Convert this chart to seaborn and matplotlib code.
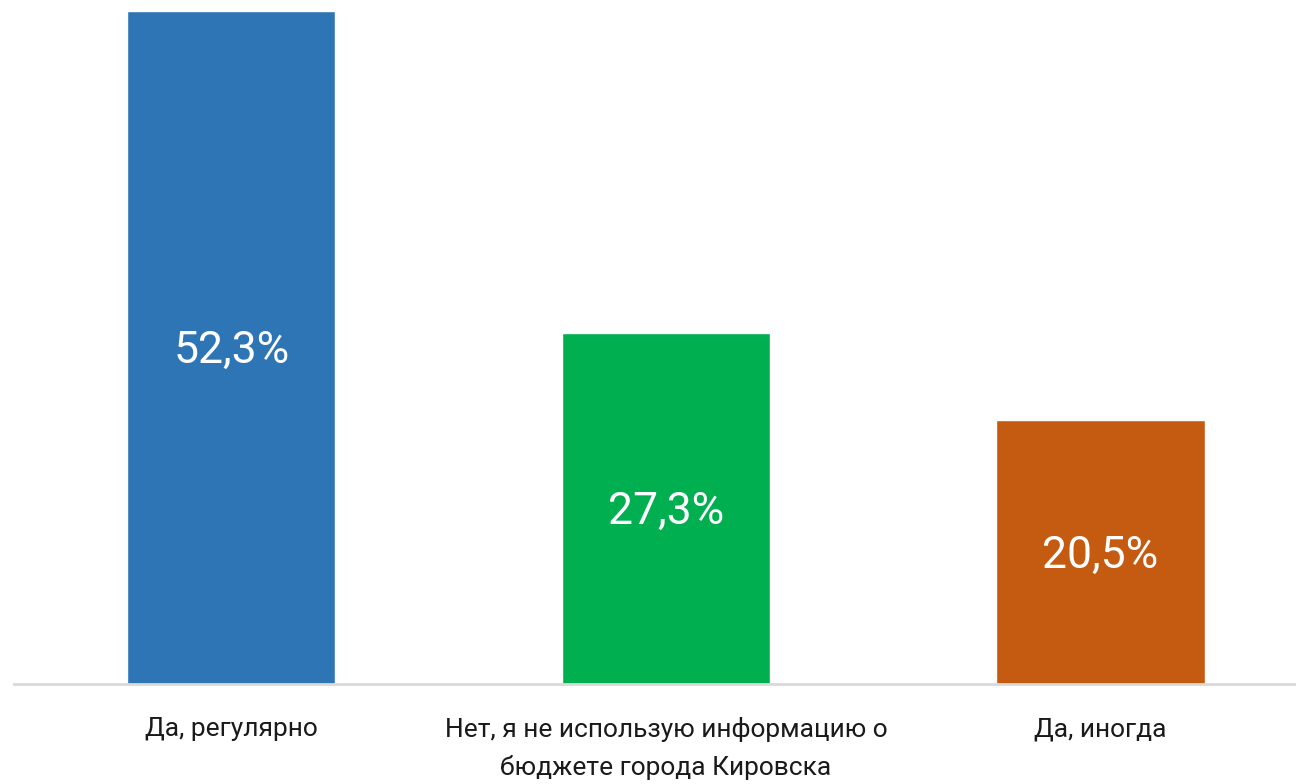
import matplotlib
matplotlib.use("Agg")
import matplotlib.pyplot as plt
import seaborn as sns
import pandas as pd

categories = ["Да, регулярно",
              "Нет, я не использую информацию о\nбюджете города Кировска",
              "Да, иногда"]
values = [52.3, 27.3, 20.5]
labels = ["52,3%", "27,3%", "20,5%"]
colors = ["#2E75B6", "#00B050", "#C55A11"]

sns.set_theme(style="white")
plt.rcParams["font.family"] = ["Roboto", "DejaVu Sans"]

df = pd.DataFrame({"cat": categories, "val": values})

fig = plt.figure(figsize=(12.96, 7.84), dpi=100)
ax = fig.add_axes([14 / 1296, 1 - 684 / 784, 1 - 14 / 1296, 684 / 784])
sns.barplot(data=df, x="cat", y="val", hue="cat", palette=colors,
            width=0.479, legend=False, ax=ax, saturation=1)

ax.set_ylim(0, 53.15)
ax.set_xlim(-0.5, 2.45)
for i, (v, lab) in enumerate(zip(values, labels)):
    ax.text(i, v / 2 - 0.3, lab, ha="center", va="center", color="white",
            fontsize=32, fontweight="normal")

for s in ["top", "right", "left"]:
    ax.spines[s].set_visible(False)
ax.spines["bottom"].set_color("#D9D9D9")
ax.spines["bottom"].set_linewidth(2)
ax.set_yticks([])
ax.set_xlabel("")
ax.set_ylabel("")
ax.tick_params(axis="x", length=0, pad=24, labelsize=19, labelcolor="#1a1a1a")
for t in ax.get_xticklabels():
    t.set_linespacing(1.65)

fig.savefig("out.png", dpi=100)
